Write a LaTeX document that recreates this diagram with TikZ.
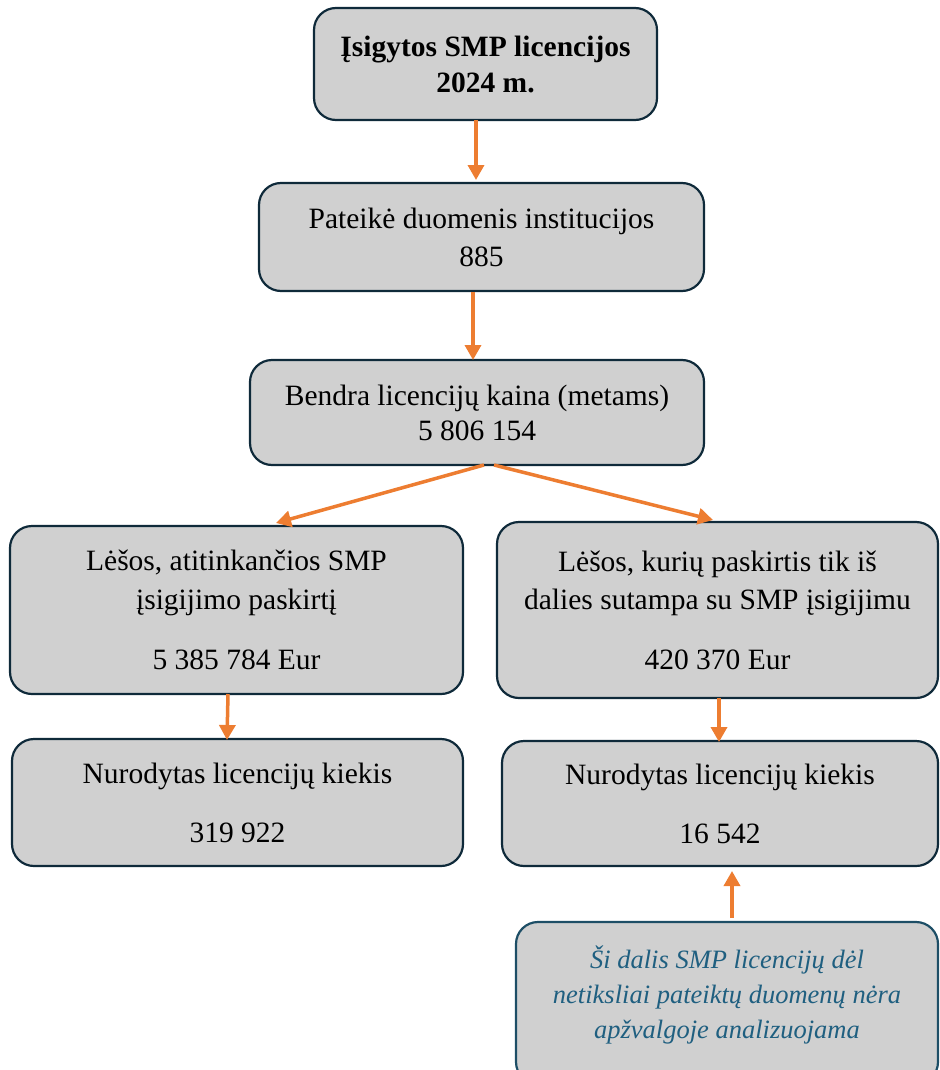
\documentclass[tikz,border=0pt]{standalone}
\usepackage{fontspec}
\setmainfont{Liberation Serif}
\usetikzlibrary{arrows.meta}
\definecolor{boxfill}{HTML}{D0D0D0}
\definecolor{boxline}{HTML}{0F2A3A}
\definecolor{noteline}{HTML}{1D4E66}
\definecolor{notetext}{HTML}{1F5F80}
\definecolor{arrowc}{HTML}{ED7D31}
\tikzset{
  x=1pt,y=1pt,
  boxstyle/.style={draw=boxline,fill=boxfill,rounded corners=22pt,line width=2.2pt,
    inner sep=0pt,align=center,font=\fontsize{29.5}{38}\selectfont,anchor=center},
  notestyle/.style={boxstyle,draw=noteline,text=notetext,font=\fontsize{26.5}{35}\selectfont\itshape},
  conn/.style={draw=arrowc,line width=3.5pt,-{Triangle[length=15pt,width=16pt]}}
}
\begin{document}
\begin{tikzpicture}
\useasboundingbox (0,0) rectangle (939,-1070);
\clip (0,0) rectangle (939,-1070);
\node[boxstyle,minimum width=343,minimum height=112,font=\fontsize{29.5}{36}\selectfont] (b1) at (485.5,-64)
  {\textbf{Įsigytos SMP licencijos}\\\textbf{2024 m.}};
\node[boxstyle,minimum width=445,minimum height=108] (b2) at (481.5,-237)
  {Pateikė duomenis institucijos\\885};
\node[boxstyle,minimum width=454,minimum height=105,font=\fontsize{29.5}{35}\selectfont] (b3) at (477,-412.5)
  {Bendra licencijų kaina (metams)\\5 806 154};
\node[boxstyle,minimum width=453,minimum height=168,font=\fontsize{29.5}{39}\selectfont] (b4) at (236.5,-610)
  {Lėšos, atitinkančios SMP\\įsigijimo paskirtį\\[21pt]5 385 784 Eur};
\node[boxstyle,minimum width=441,minimum height=176,font=\fontsize{29.5}{38}\selectfont] (b5) at (717.5,-610)
  {Lėšos, kurių paskirtis tik iš\\dalies sutampa su SMP įsigijimu\\[22pt]420 370 Eur};
\node[boxstyle,minimum width=451,minimum height=127,font=\fontsize{29.5}{59}\selectfont] (b6) at (237.5,-802.5)
  {Nurodytas licencijų kiekis\\319 922};
\node[boxstyle,minimum width=436,minimum height=125,font=\fontsize{29.5}{59}\selectfont] (b7) at (720,-803.5)
  {Nurodytas licencijų kiekis\\16 542};
\node[notestyle,minimum width=422,minimum height=162] (b8) at (727,-1003)
  {Ši dalis SMP licencijų dėl\\netiksliai pateiktų duomenų nėra\\apžvalgoje analizuojama\\[-14pt]{}};
\coordinate (a1s) at (476,-120); \coordinate (a1e) at (476,-180);
\draw[conn] (a1s) -- (a1e);
\coordinate (a2s) at (473,-292); \coordinate (a2e) at (473,-360);
\draw[conn] (a2s) -- (a2e);
\coordinate (a3s) at (484,-465); \coordinate (a3e) at (276,-523);
\draw[conn] (a3s) -- (a3e);
\coordinate (a4s) at (494,-465); \coordinate (a4e) at (713,-520);
\draw[conn] (a4s) -- (a4e);
\coordinate (a5s) at (228,-694); \coordinate (a5e) at (227,-740);
\draw[conn] (a5s) -- (a5e);
\coordinate (a6s) at (719,-698); \coordinate (a6e) at (719,-742);
\draw[conn] (a6s) -- (a6e);
\coordinate (a7s) at (732,-918); \coordinate (a7e) at (732,-871);
\draw[conn] (a7s) -- (a7e);
\end{tikzpicture}
\end{document}
